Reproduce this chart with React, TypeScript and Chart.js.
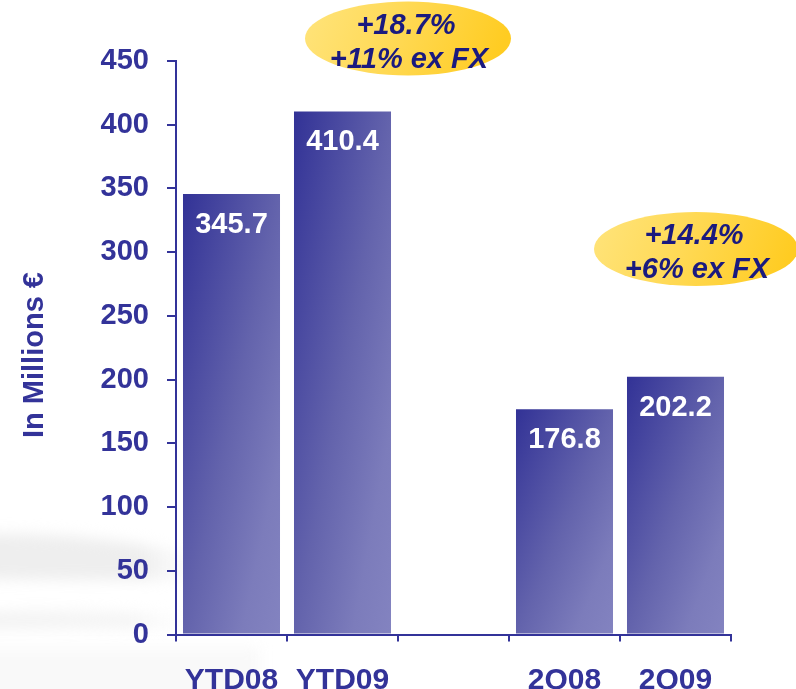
import React, { useEffect, useRef } from "react";
import { Chart, registerables } from "chart.js";

Chart.register(...registerables);

// ---- data ----
const categories = ["YTD08", "YTD09", "", "2Q08", "2Q09"];
const revenue: (number | null)[] = [345.7, 410.4, null, 176.8, 202.2];
const valueLabels = ["345.7", "410.4", "", "176.8", "202.2"];
const yMin = 0;
const yMax = 450;
const yStep = 50;
const axisTitle = "In Millions €";
const growthNoteA = ["+18.7%", "+11% ex FX"];
const growthNoteB = ["+14.4%", "+6% ex FX"];

// ---- style ----
const NAVY = "#333399";
const NOTE_TEXT = "#1A1A7F";
const FONT = "'Liberation Sans', Arial, sans-serif";
const BAR_PCT = 0.874;

const backgroundPlugin = {
  id: "slideBackground",
  beforeDraw(chart: any) {
    const c = chart.ctx;
    c.save();
    c.fillStyle = "#ffffff";
    c.fillRect(0, 0, chart.width, chart.height);
    c.filter = "blur(7px)";
    const g1 = c.createLinearGradient(0, 0, 200, 0);
    g1.addColorStop(0, "#eeeeee");
    g1.addColorStop(0.7, "#eeeeee");
    g1.addColorStop(1, "rgba(242,242,242,0)");
    c.fillStyle = g1;
    c.beginPath();
    c.moveTo(-30, 534);
    c.quadraticCurveTo(100, 532, 200, 556);
    c.lineTo(200, 580);
    c.quadraticCurveTo(100, 580, -30, 579);
    c.closePath();
    c.fill();
    const g2 = c.createLinearGradient(0, 0, 190, 0);
    g2.addColorStop(0, "#f3f3f3");
    g2.addColorStop(0.7, "#f4f4f4");
    g2.addColorStop(1, "rgba(247,247,247,0)");
    c.fillStyle = g2;
    c.beginPath();
    c.moveTo(-30, 612);
    c.quadraticCurveTo(90, 609, 190, 617);
    c.lineTo(190, 627);
    c.quadraticCurveTo(90, 629, -30, 629);
    c.closePath();
    c.fill();
    c.fillStyle = "#f9f9f9";
    c.fillRect(-20, 648, 280, 80);
    c.restore();
  },
};

const axisTitlePlugin = {
  id: "axisTitleText",
  afterDraw(chart: any) {
    const c = chart.ctx;
    c.save();
    c.translate(35, 355);
    c.rotate(-Math.PI / 2);
    c.fillStyle = NAVY;
    c.font = `bold 29px ${FONT}`;
    c.textAlign = "center";
    c.textBaseline = "middle";
    c.fillText(axisTitle, 0, 0);
    c.restore();
  },
};

const valueLabelPlugin = {
  id: "valueLabels",
  afterDatasetsDraw(chart: any) {
    const c = chart.ctx;
    const meta = chart.getDatasetMeta(0);
    c.save();
    c.fillStyle = "#ffffff";
    c.font = `bold 29px ${FONT}`;
    c.textAlign = "center";
    c.textBaseline = "alphabetic";
    meta.data.forEach((bar: any, i: number) => {
      const txt = valueLabels[i];
      if (!txt || revenue[i] == null) return;
      c.fillText(txt, bar.x, bar.y + 39);
    });
    c.restore();
  },
};

function drawNote(c: CanvasRenderingContext2D, cx: number, cy: number, rx: number, ry: number, lines: string[]) {
  c.save();
  const g = c.createLinearGradient(cx - rx, cy - ry, cx + rx * 0.8, cy + ry);
  g.addColorStop(0, "#FFE47C");
  g.addColorStop(0.45, "#FFDA58");
  g.addColorStop(1, "#FFCC22");
  c.fillStyle = g;
  c.beginPath();
  c.ellipse(cx, cy, rx, ry, 0, 0, Math.PI * 2);
  c.fill();
  c.fillStyle = NOTE_TEXT;
  c.font = `italic bold 29px ${FONT}`;
  c.textAlign = "center";
  c.textBaseline = "alphabetic";
  c.fillText(lines[0], cx - 2, cy - 5);
  c.fillText(lines[1], cx + 1, cy + 29);
  c.restore();
}

const notesPlugin = {
  id: "growthNotes",
  afterDraw(chart: any) {
    const c = chart.ctx;
    drawNote(c, 408, 38.5, 103, 37, growthNoteA);
    drawNote(c, 696, 249, 102, 37, growthNoteB);
  },
};

function barGradient(ctx: any) {
  const fallback = "#5555aa";
  const chart = ctx.chart;
  const xs = chart?.scales?.x;
  const ys = chart?.scales?.y;
  if (!xs || !ys || ctx.type !== "data" || ctx.raw == null) return fallback;
  const cx = xs.getPixelForValue(ctx.dataIndex);
  const w = (xs.width / categories.length) * BAR_PCT;
  const top = ys.getPixelForValue(ctx.raw);
  const bottom = ys.getPixelForValue(0);
  const h = bottom - top;
  if (![cx, w, top, bottom, h].every((v) => Number.isFinite(v)) || w <= 0 || h <= 0) return fallback;
  const l = cx - w / 2;
  const k = (2 * w * h) / (h * h + w * w);
  const x1 = l + k * h;
  const y1 = top + k * w;
  if (!Number.isFinite(x1) || !Number.isFinite(y1)) return fallback;
  const g = chart.ctx.createLinearGradient(l, top, x1, y1);
  g.addColorStop(0, "#323296");
  g.addColorStop(0.5, "#6363AC");
  g.addColorStop(0.8, "#7C7CBB");
  g.addColorStop(1, "#8383C0");
  return g;
}

export default function App() {
  const ref = useRef<HTMLCanvasElement | null>(null);

  useEffect(() => {
    if (!ref.current) return;
    const chart = new Chart(ref.current, {
      type: "bar",
      data: {
        labels: categories,
        datasets: [
          {
            data: revenue as any,
            backgroundColor: barGradient as any,
            borderWidth: 0,
            barPercentage: BAR_PCT,
            categoryPercentage: 1,
          },
        ],
      },
      options: {
        animation: false,
        responsive: false,
        devicePixelRatio: 1,
        layout: { padding: { left: 0, top: 61, right: 65, bottom: 0 } },
        plugins: {
          legend: { display: false },
          tooltip: { enabled: false },
          title: { display: false },
        },
        scales: {
          x: {
            type: "category",
            offset: true,
            grid: {
              display: true,
              offset: true,
              drawOnChartArea: false,
              drawTicks: true,
              tickLength: 7,
              color: NAVY,
              lineWidth: 2,
            },
            border: { display: true, color: NAVY, width: 2 },
            ticks: {
              color: NAVY,
              font: { family: FONT, size: 30, weight: "bold" },
              padding: 21,
              maxRotation: 0,
              autoSkip: false,
            },
            afterFit: (s: any) => {
              s.height = 689 - 634.5;
            },
          },
          y: {
            min: yMin,
            max: yMax,
            grid: {
              display: true,
              drawOnChartArea: false,
              drawTicks: true,
              tickLength: 9,
              color: NAVY,
              lineWidth: 2,
            },
            border: { display: true, color: NAVY, width: 2 },
            ticks: {
              stepSize: yStep,
              color: NAVY,
              font: { family: FONT, size: 29, weight: "bold" },
              padding: 18,
            },
            title: { display: false },
            afterFit: (s: any) => {
              s.width = 176;
            },
          },
        },
      },
      plugins: [backgroundPlugin, valueLabelPlugin, notesPlugin, axisTitlePlugin],
    });
    return () => chart.destroy();
  }, []);

  return (
    <div style={{ position: "absolute", left: 0, top: 0, width: 796, height: 689, background: "#fff" }}>
      <canvas ref={ref} width={796} height={689} style={{ width: 796, height: 689, display: "block" }} />
    </div>
  );
}
